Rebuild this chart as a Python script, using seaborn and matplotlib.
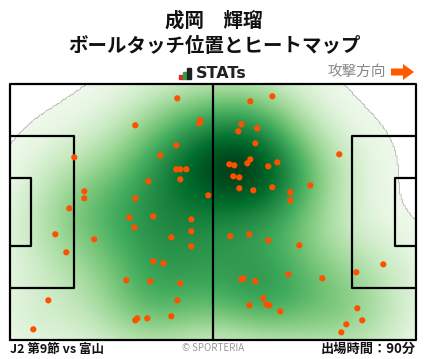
import matplotlib
matplotlib.use("Agg")
import matplotlib.pyplot as plt
import matplotlib.colors as mcolors
import seaborn as sns
import numpy as np
import pandas as pd
from matplotlib.patches import Rectangle, FancyArrow

# Touch positions in metres (pitch 105 x 68, y measured from bottom)
touch_x = [43.27, 32.40, 49.22, 48.96, 16.63, 43.01, 38.87, 43.01, 44.04, 45.60,
           44.04, 35.77, 19.22, 19.22, 32.40, 15.34, 51.28, 30.85, 37.06, 46.89,
           67.84, 62.15, 59.82, 59.04, 63.96, 63.44, 85.16, 56.72, 58.01, 61.37,
           62.15, 69.13, 66.80, 57.75, 59.30, 59.30, 62.92, 67.84, 72.49, 72.49,
           77.66, 32.15, 11.72, 21.80, 46.89, 41.72, 46.89, 14.56, 37.06, 39.65,
           30.08, 36.28, 44.04, 43.27, 9.91, 41.72, 35.51, 32.92, 32.40, 6.03,
           56.97, 61.89, 66.80, 74.82, 96.54, 89.56, 59.82, 60.34, 63.44, 71.97,
           80.77, 65.51, 66.28, 67.06, 61.89, 69.90, 89.82, 91.10, 86.97, 85.68]
touch_y = [64.20, 57.03, 58.36, 57.56, 48.53, 51.71, 49.05, 45.34, 45.34, 45.34,
           42.68, 42.15, 39.49, 37.63, 37.63, 34.98, 38.43, 32.59, 32.85, 32.05,
           64.73, 63.41, 57.30, 55.44, 56.24, 52.25, 49.33, 46.67, 46.40, 46.93,
           47.99, 47.19, 46.13, 43.48, 43.21, 40.29, 39.76, 40.56, 39.23, 37.10,
           41.08, 29.93, 28.07, 26.75, 28.87, 27.27, 24.88, 23.29, 20.90, 20.37,
           15.86, 15.59, 15.06, 10.54, 10.54, 6.30, 5.76, 5.76, 5.23, 2.84,
           27.54, 28.07, 26.48, 25.15, 20.10, 17.98, 16.12, 16.39, 15.59, 17.45,
           16.39, 11.08, 9.48, 9.22, 9.22, 7.62, 8.42, 5.23, 4.17, 2.04]

player_name = "成岡　輝瑠"
subtitle = "ボールタッチ位置とヒートマップ"
match_label = "J2 第9節 vs 富山"
minutes_label = "出場時間：90分"

df = pd.DataFrame({"x": touch_x, "y": touch_y})

sns.set_theme(style="white")
plt.rcParams['font.family'] = ['Noto Sans CJK JP', 'DejaVu Sans']

L, W = 105.0, 68.0
fig = plt.figure(figsize=(4.28, 3.59), dpi=100)
ax = fig.add_axes([10/428, 19/359, 406/428, 256/359])

# Gaussian KDE (Scott bandwidth, scaled) evaluated on a pitch grid
data = np.vstack([df["x"].to_numpy(), df["y"].to_numpy()])
n = data.shape[1]
bw_adjust = 1.1
factor = n ** (-1.0 / 6.0) * bw_adjust
cov = np.cov(data) * factor ** 2
inv = np.linalg.inv(cov)
gx = np.linspace(0, L, 300)
gy = np.linspace(0, W, 200)
GX, GY = np.meshgrid(gx, gy)
pts = np.stack([GX.ravel(), GY.ravel()])
dens = np.zeros(pts.shape[1])
for i in range(n):
    d = pts - data[:, i:i+1]
    dens += np.exp(-0.5 * np.einsum("ij,ik,kj->j", d, inv, d))
dens = dens.reshape(GX.shape)
dens /= dens.max()
thresh = 0.035
masked = np.ma.masked_less(dens, thresh)
ax.imshow(masked, extent=(0, L, 0, W), origin="lower", cmap="Greens",
          norm=mcolors.PowerNorm(gamma=0.85, vmin=0.0, vmax=1.0),
          interpolation="bilinear", aspect="auto", zorder=1)

lw = 1.6
lc = "black"
# outer frame & halfway line
ax.plot([0, L, L, 0, 0], [0, 0, W, W, 0], color=lc, lw=lw, zorder=2, clip_on=False)
ax.plot([L/2, L/2], [0, W], color=lc, lw=lw, zorder=2)
# penalty areas
pb_d, pb_w = 16.5, 40.32
ga_d, ga_w = 5.5, 18.32
for x0, d in [(0, pb_d), (L, -pb_d)]:
    ax.plot([x0, x0 + d, x0 + d, x0], [W/2 - pb_w/2, W/2 - pb_w/2, W/2 + pb_w/2, W/2 + pb_w/2],
            color=lc, lw=lw, zorder=2)
for x0, d in [(0, ga_d), (L, -ga_d)]:
    ax.plot([x0, x0 + d, x0 + d, x0], [W/2 - ga_w/2, W/2 - ga_w/2, W/2 + ga_w/2, W/2 + ga_w/2],
            color=lc, lw=lw, zorder=2)

sns.scatterplot(data=df, x="x", y="y", color="#ff5000", s=20, edgecolor="none",
                ax=ax, zorder=3, legend=False)

ax.set_xlim(0, L)
ax.set_ylim(0, W)
ax.set_xticks([])
ax.set_yticks([])
ax.set_xlabel("")
ax.set_ylabel("")
for s in ax.spines.values():
    s.set_visible(False)

# Titles
fig.text(0.5, 1 - 21/359, player_name, ha="center", va="center", fontsize=14,
         fontweight="bold", color="#111111")
fig.text(0.5, 1 - 46/359, subtitle, ha="center", va="center", fontsize=14,
         fontweight="bold", color="#111111")

# STATs logo
bars = [(179, 4, "#e8251f"), (183, 7, "#2ea043"), (187, 11, "#222222")]
for bx, bh, bc in bars:
    fig.patches.append(Rectangle((bx/428, (359-79)/359), 3.5/428, bh/359,
                                 transform=fig.transFigure, color=bc))
fig.text(196/428, 1 - 73/359, "STATs", ha="left", va="center", fontsize=11.5,
         fontweight="bold", color="#222222", family=["DejaVu Sans"])

# attack direction
fig.text(386/428, 1 - 72/359, "攻撃方向", ha="right", va="center", fontsize=10.5,
         color="#888888")
fig.patches.append(FancyArrow(391/428, 1 - 72/359, 12/428, 0, width=7/359,
                              head_width=16/359, head_length=11/428,
                              length_includes_head=False, transform=fig.transFigure,
                              color="#ff5a00", lw=0))

# footer
fig.text(10/428, 1 - 349/359, match_label, ha="left", va="center", fontsize=9,
         fontweight="bold", color="#111111")
fig.text(213/428, 1 - 348/359, "© SPORTERIA", ha="center", va="center", fontsize=7,
         color="#999999")
fig.text(416/428, 1 - 349/359, minutes_label, ha="right", va="center", fontsize=9.5,
         fontweight="bold", color="#111111")

fig.savefig("out.png", dpi=100)
